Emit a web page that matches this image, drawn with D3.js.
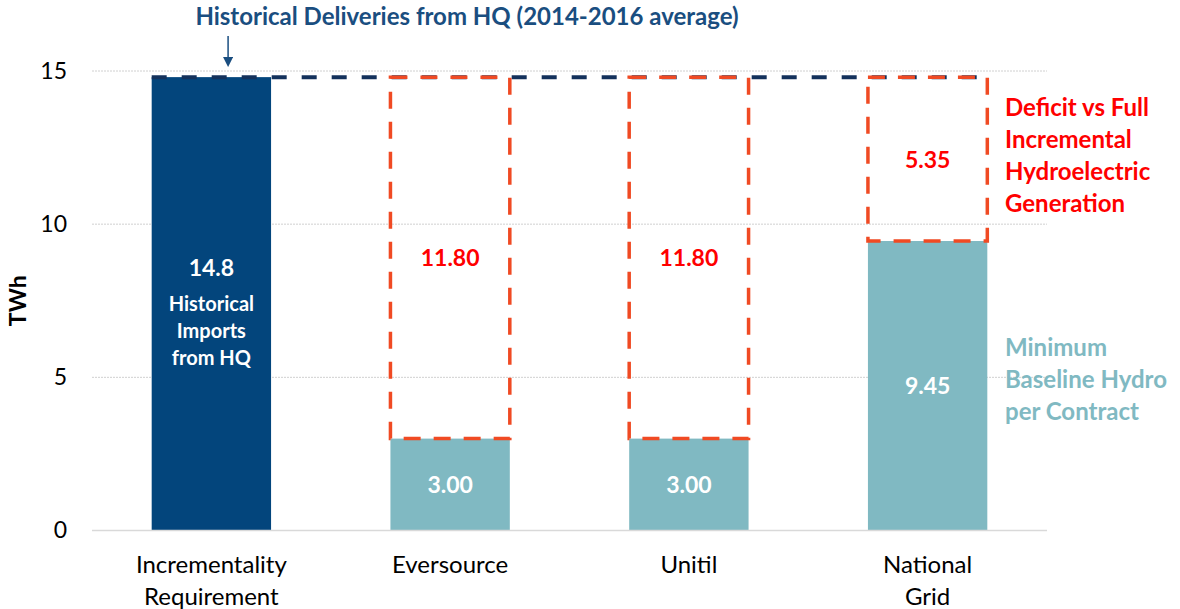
<!DOCTYPE html>
<html>
<head>
<meta charset="utf-8">
<script src="https://cdn.jsdelivr.net/npm/d3@7"></script>
<style>
  body { margin: 0; background: #fff; }
  text { font-family: Lato, "Open Sans", sans-serif; }
</style>
</head>
<body>
<div id="chart"></div>
<script>
// data
var categories = ["Incrementality Requirement", "Eversource", "Unitil", "National Grid"]
var categoryLines = [["Incrementality", "Requirement"], ["Eversource"], ["Unitil"], ["National", "Grid"]]
var baseline = [14.8, 3.00, 3.00, 9.45]
var deficit = [0, 11.80, 11.80, 5.35]
var baseLabels = ["14.8", "3.00", "3.00", "9.45"]
var deficitLabels = ["", "11.80", "11.80", "5.35"]
var historical = 14.8
var yTicks = [0, 5, 10, 15]

var W = 1180, H = 609
var margin = {top: 71, right: 133, bottom: 78.5, left: 92}
var width = W - margin.left - margin.right
var height = H - margin.top - margin.bottom

var navy = "#03457C"
var teal = "#80B9C2"
var red = "#FF0000"
var orange = "#F04A23"

var svg = d3.select("#chart")
    .append("svg")
    .attr("width", W)
    .attr("height", H)

var g = svg.append("g")
    .attr("transform", "translate(" + margin.left + "," + margin.top + ")")

var x = d3.scaleBand()
    .domain(categories)
    .range([0, width])
    .paddingInner(0.5)
    .paddingOuter(0.25)

var y = d3.scaleLinear()
    .domain([0, 15])
    .range([height, 0])

// gridlines
g.append("g").selectAll("line")
    .data(yTicks.filter(function(t){ return t > 0 }))
    .enter().append("line")
    .attr("x1", 0).attr("x2", width)
    .attr("y1", function(d){ return y(d) }).attr("y2", function(d){ return y(d) })
    .style("stroke", "#d0d0d0")
    .style("stroke-width", 1)
    .style("stroke-dasharray", "2,1")

// y axis labels
var yAxis = d3.axisLeft(y).tickValues(yTicks).tickSize(0).tickPadding(25)
var ya = g.append("g").call(yAxis)
ya.select(".domain").remove()
ya.selectAll("text")
    .style("font-size", "23px")
    .style("fill", "#000")
    .style("font-family", "Lato, sans-serif")

svg.append("text")
    .attr("transform", "translate(26," + (margin.top + y(7.5)) + ") rotate(-90)")
    .attr("text-anchor", "middle")
    .text("TWh")
    .style("font-size", "23px")
    .style("font-weight", "700")
    .style("fill", "#000")

// bars
var idx = d3.range(categories.length)
g.append("g").selectAll("rect")
    .data(idx)
    .enter().append("rect")
    .attr("x", function(i){ return x(categories[i]) })
    .attr("width", x.bandwidth())
    .attr("y", function(i){ return y(baseline[i]) })
    .attr("height", function(i){ return y(0) - y(baseline[i]) })
    .style("fill", function(i){ return i == 0 ? navy : teal })

// baseline axis
g.append("line")
    .attr("x1", 0).attr("x2", width)
    .attr("y1", y(0)).attr("y2", y(0))
    .style("stroke", "#d9d9d9")
    .style("stroke-width", 1.5)

// historical dashed line
g.append("line")
    .attr("x1", x(categories[0]))
    .attr("x2", x(categories[3]) + x.bandwidth())
    .attr("y1", y(historical)).attr("y2", y(historical))
    .style("stroke", "#14325C")
    .style("stroke-width", 4)
    .style("stroke-dasharray", "15,15")

// deficit dashed boxes
g.append("g").selectAll("rect")
    .data(idx.filter(function(i){ return deficit[i] > 0 }))
    .enter().append("rect")
    .attr("x", function(i){ return x(categories[i]) })
    .attr("width", x.bandwidth())
    .attr("y", function(i){ return y(baseline[i] + deficit[i]) })
    .attr("height", function(i){ return y(baseline[i]) - y(baseline[i] + deficit[i]) })
    .style("fill", "none")
    .style("stroke", orange)
    .style("stroke-width", 3.5)
    .style("stroke-dasharray", "17,13")

// value labels in bars
g.append("g").selectAll("text")
    .data(idx)
    .enter().append("text")
    .attr("x", function(i){ return x(categories[i]) + x.bandwidth()/2 })
    .attr("y", function(i){ return i == 0 ? y(8.57) : y(baseline[i]/2) })
    .attr("dy", "0.35em")
    .attr("text-anchor", "middle")
    .text(function(i){ return baseLabels[i] })
    .style("font-size", "23px")
    .style("font-weight", "700")
    .style("fill", "#fff")

// description inside first bar
var descLines = ["Historical", "Imports", "from HQ"]
g.append("g").selectAll("text")
    .data(descLines)
    .enter().append("text")
    .attr("x", x(categories[0]) + x.bandwidth()/2)
    .attr("y", function(d, k){ return y(7.39) + k*27 })
    .attr("dy", "0.35em")
    .attr("text-anchor", "middle")
    .text(function(d){ return d })
    .style("font-size", "20px")
    .style("font-weight", "700")
    .style("fill", "#fff")

// deficit labels
g.append("g").selectAll("text")
    .data(idx.filter(function(i){ return deficit[i] > 0 }))
    .enter().append("text")
    .attr("x", function(i){ return x(categories[i]) + x.bandwidth()/2 })
    .attr("y", function(i){ return i == 3 ? y(12.1) : y(8.9) })
    .attr("dy", "0.35em")
    .attr("text-anchor", "middle")
    .text(function(i){ return deficitLabels[i] })
    .style("font-size", "23px")
    .style("font-weight", "700")
    .style("fill", red)

// category labels
var cats = g.append("g")
categories.forEach(function(c, i){
    categoryLines[i].forEach(function(line, k){
        cats.append("text")
            .attr("x", x(c) + x.bandwidth()/2)
            .attr("y", height + 34 + k*32)
            .attr("dy", "0.35em")
            .attr("text-anchor", "middle")
            .text(line)
            .style("font-size", "24px")
            .style("fill", "#000")
    })
})

// title and arrow
svg.append("text")
    .attr("x", 467)
    .attr("y", 17)
    .attr("dy", "0.35em")
    .attr("text-anchor", "middle")
    .text("Historical Deliveries from HQ (2014-2016 average)")
    .style("font-size", "24px")
    .style("font-weight", "700")
    .style("fill", "#1A4E80")

var arrowX = margin.left + x(categories[0]) + x.bandwidth()*0.64
svg.append("defs").append("marker")
    .attr("id", "arrowhead")
    .attr("viewBox", "0 0 10 10")
    .attr("refX", 8).attr("refY", 5)
    .attr("markerWidth", 7).attr("markerHeight", 7)
    .attr("orient", "auto")
    .append("path")
    .attr("d", "M0,0 L10,5 L0,10 Z")
    .style("fill", "#1A4E80")
svg.append("line")
    .attr("x1", arrowX).attr("x2", arrowX)
    .attr("y1", 36).attr("y2", 65)
    .style("stroke", "#1A4E80")
    .style("stroke-width", 1.5)
    .attr("marker-end", "url(#arrowhead)")

// right-side annotations
var deficitNote = ["Deficit vs Full", "Incremental", "Hydroelectric", "Generation"]
var baseNote = ["Minimum", "Baseline Hydro", "per Contract"]
svg.append("g").selectAll("text")
    .data(deficitNote)
    .enter().append("text")
    .attr("x", 1005)
    .attr("y", function(d, k){ return 108 + k*32 })
    .attr("dy", "0.35em")
    .text(function(d){ return d })
    .style("font-size", "24px")
    .style("font-weight", "700")
    .style("fill", red)
svg.append("g").selectAll("text")
    .data(baseNote)
    .enter().append("text")
    .attr("x", 1005)
    .attr("y", function(d, k){ return 348 + k*32 })
    .attr("dy", "0.35em")
    .text(function(d){ return d })
    .style("font-size", "24px")
    .style("font-weight", "700")
    .style("fill", teal)
</script>
</body>
</html>
